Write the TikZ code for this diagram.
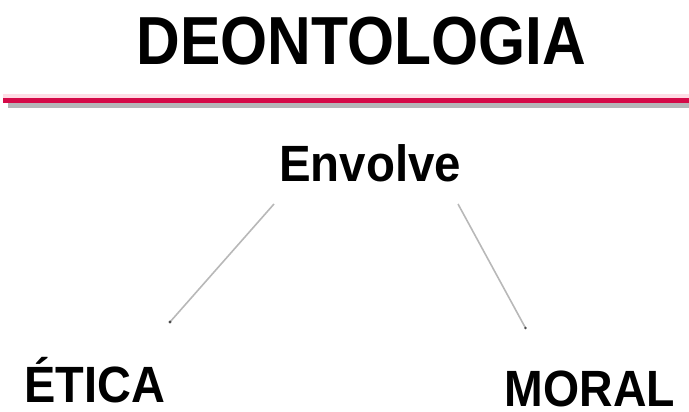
\documentclass[tikz,border=0pt]{standalone}
\usepackage{fontspec}
\setmainfont{Liberation Sans}
\definecolor{rulered}{HTML}{D40A48}
\definecolor{rulepink}{HTML}{FFDCE5}
\definecolor{rulegray}{HTML}{B5B7B9}
\definecolor{linkgray}{HTML}{B8B8B8}
\begin{document}
\begin{tikzpicture}[x=1pt,y=-1pt,
  lbl/.style={anchor=base,inner sep=0pt,outer sep=0pt,text=black},
  link/.style={draw=linkgray,line width=1.6pt},
  tipdot/.style={fill=black!70,draw=none}]
\useasboundingbox (0,0) rectangle (689,412);
% title
\node[lbl] (title) at (361.5,65) {\scalebox{0.89}[1]{\fontsize{68}{68}\selectfont\bfseries DEONTOLOGIA}};
% rule
\draw[rulepink,line width=4pt] (3,96) -- (689,96);
\draw[rulegray,line width=5.6pt] (8,105.5) -- (689,105.5);
\draw[rulered,line width=4.4pt] (3,100.5) -- (689,100.5);
% nodes
\node[lbl] (envolve) at (370,182) {\scalebox{0.93}[1]{\fontsize{51}{51}\selectfont\bfseries Envolve}};
\node[lbl] (etica) at (95,402) {\scalebox{0.92}[1]{\fontsize{51}{51}\selectfont\bfseries ÉTICA}};
\node[lbl] (moral) at (590,406.5) {\scalebox{0.91}[1]{\fontsize{51}{51}\selectfont\bfseries MORAL}};
% connector ends
\coordinate (l1) at (274,204);
\coordinate (l2) at (170,322);
\coordinate (r1) at (458,204);
\coordinate (r2) at (525.5,328);
\draw[link] (l1) -- (l2);
\draw[link] (r1) -- (r2);
\fill[tipdot] (l2) circle (1.6);
\fill[tipdot] (r2) circle (1.4);
\end{tikzpicture}
\end{document}
